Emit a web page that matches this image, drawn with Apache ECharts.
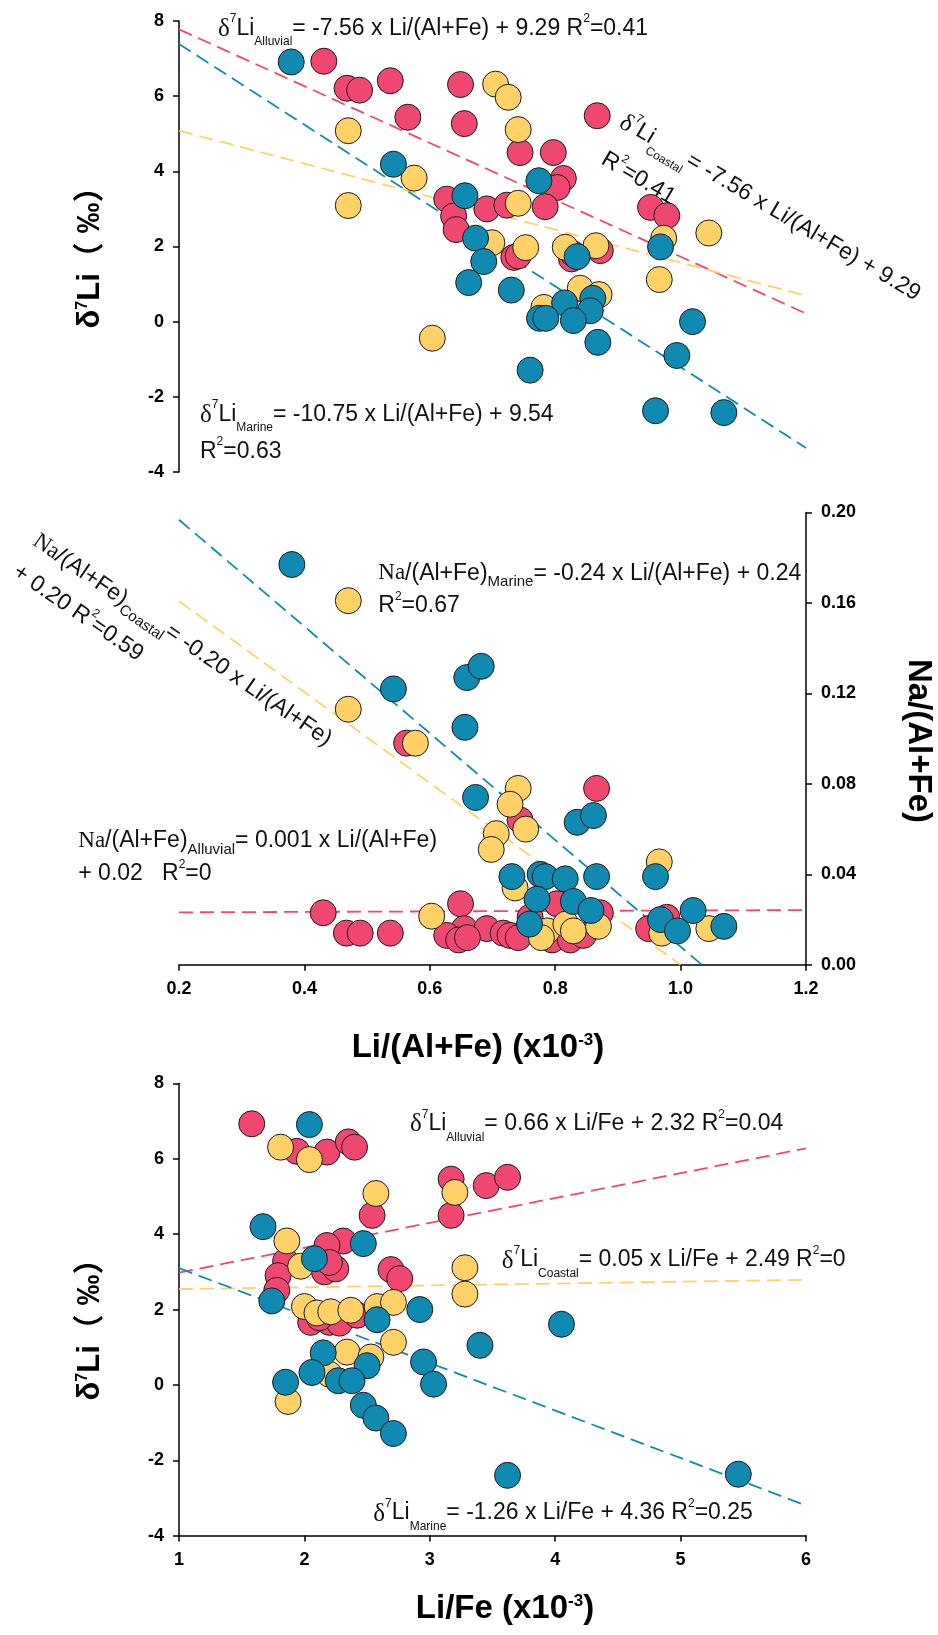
<!DOCTYPE html>
<html>
<head>
<meta charset="utf-8">
<title>δ7Li / Na vs Li</title>
<script src="https://cdn.jsdelivr.net/npm/echarts@6/dist/echarts.min.js"></script>
<style>
html, body { margin: 0; padding: 0; background: #fff; }
#chart { width: 938px; height: 1635px; }
</style>
</head>
<body>
<div id="chart"></div>
<script>
'use strict';
// 字体
var SANS = '"Liberation Sans", Arial, sans-serif';
var SERIF = '"Liberation Serif", "Times New Roman", serif';
var CJK = '"Liberation Sans", "Noto Sans CJK SC", sans-serif';

// 颜色：Alluvial / Coastal / Marine
var COLORS = ['#EF476F', '#FFD166', '#118AB2'];

// 坐标轴刻度
var xTicksLiAlFe = [0.2, 0.4, 0.6, 0.8, 1.0, 1.2];
var yTicksD7Li = [-4, -2, 0, 2, 4, 6, 8];
var yTicksNa = [0, 0.04, 0.08, 0.12, 0.16, 0.20];
var xTicksLiFe = [1, 2, 3, 4, 5, 6];

// 上图：δ7Li vs Li/(Al+Fe)
var topAlluvial = [[0.431,6.93],[0.468,6.21],[0.488,6.16],[0.537,6.41],[0.565,5.44],[0.649,6.31],[0.655,5.27],[0.744,4.50],[0.797,4.50],[0.813,3.81],[0.803,3.57],[0.627,3.26],[0.638,2.81],[0.642,2.45],[0.691,3.00],[0.723,3.10],[0.784,3.06],[0.734,1.71],[0.741,1.75],[0.826,1.67],[0.829,1.80],[0.872,1.89],[0.867,5.48],[0.952,3.04],[0.978,2.82]];
var topCoastal = [[0.470,5.08],[0.575,3.82],[0.470,3.09],[0.604,-0.44],[0.705,6.32],[0.725,5.97],[0.741,5.11],[0.699,2.10],[0.741,3.15],[0.753,1.97],[0.816,1.98],[0.865,2.02],[0.840,0.89],[0.870,0.72],[0.782,0.38],[0.973,2.22],[1.045,2.36],[0.966,1.12]];
var topMarine = [[0.379,6.91],[0.542,4.19],[0.656,3.35],[0.673,2.22],[0.686,1.60],[0.662,1.04],[0.730,0.84],[0.760,-1.29],[0.774,3.75],[0.835,1.73],[0.815,0.50],[0.860,0.62],[0.856,0.29],[0.775,0.09],[0.785,0.09],[0.829,0.03],[0.868,-0.55],[0.968,1.99],[1.019,0.00],[0.994,-0.90],[0.960,-2.37],[1.069,-2.42]];

// 中图：Na/(Al+Fe) vs Li/(Al+Fe)
var midAlluvial = [[0.563,0.098],[0.744,0.064],[0.866,0.078],[0.430,0.023],[0.467,0.014],[0.489,0.014],[0.537,0.014],[0.649,0.027],[0.655,0.016],[0.627,0.013],[0.646,0.011],[0.691,0.016],[0.717,0.014],[0.728,0.013],[0.741,0.012],[0.795,0.011],[0.803,0.027],[0.824,0.011],[0.872,0.023],[0.949,0.016],[0.978,0.021],[0.660,0.012],[0.760,0.021],[0.845,0.013],[0.780,0.013]];
var midCoastal = [[0.470,0.161],[0.470,0.113],[0.577,0.098],[0.603,0.0215],[0.741,0.078],[0.728,0.071],[0.753,0.060],[0.706,0.058],[0.698,0.051],[0.966,0.0455],[0.736,0.034],[0.787,0.015],[0.817,0.018],[0.829,0.015],[0.869,0.017],[0.970,0.014],[1.045,0.016],[0.778,0.012]];
var midMarine = [[0.380,0.177],[0.542,0.122],[0.659,0.127],[0.682,0.132],[0.656,0.105],[0.673,0.074],[0.835,0.063],[0.861,0.066],[0.960,0.039],[0.731,0.039],[0.776,0.040],[0.784,0.039],[0.816,0.038],[0.866,0.039],[0.771,0.029],[0.829,0.028],[0.857,0.024],[0.759,0.018],[0.968,0.020],[0.995,0.015],[1.020,0.024],[1.069,0.017]];

// 下图：δ7Li vs Li/Fe
var botAlluvial = [[1.58,6.93],[1.94,6.20],[2.18,6.18],[2.35,6.45],[2.40,6.31],[3.17,5.46],[3.17,4.50],[3.45,5.29],[3.62,5.51],[2.54,4.50],[2.31,3.82],[2.18,3.70],[1.85,3.28],[1.79,2.90],[1.78,2.51],[2.16,3.00],[2.25,3.08],[2.20,3.25],[2.69,3.06],[2.76,2.82],[2.05,1.66],[2.20,1.66],[2.28,1.64],[2.42,1.85],[2.12,1.78]];
var botCoastal = [[1.81,6.31],[2.04,5.98],[2.57,5.08],[3.20,5.11],[1.86,3.82],[1.97,3.15],[3.28,3.11],[3.28,2.41],[2.00,2.08],[2.10,1.91],[2.21,1.94],[2.37,1.98],[2.58,2.08],[2.71,2.19],[2.71,1.13],[2.34,0.87],[2.53,0.74],[2.20,0.28],[1.87,-0.44]];
var botMarine = [[1.67,4.20],[2.04,6.91],[2.08,3.35],[2.47,3.75],[1.74,2.23],[2.58,1.73],[2.92,2.00],[2.15,0.85],[2.50,0.51],[2.06,0.33],[2.27,0.11],[2.38,0.11],[1.85,0.07],[2.47,-0.54],[2.57,-0.88],[2.71,-1.29],[2.95,0.61],[3.03,0.02],[3.40,1.05],[3.62,-2.40],[4.05,1.61],[5.46,-2.37]];

// 拟合线（斜率, 截距），顺序 Alluvial / Coastal / Marine
var topSlope = [-7.56, -4.39, -10.75];
var topIntercept = [9.29, 5.96, 9.54];
var midSlope = [0.001, -0.201, -0.236];
var midIntercept = [0.023, 0.201, 0.244];
var botSlope = [0.66, 0.05, -1.26];
var botIntercept = [2.32, 2.49, 4.36];

// 拟合线两端点，碰到 y 轴下限就截断
function fitLine(slope, intercept, xTicks, yTicks) {
    var x0 = xTicks[0];
    var x1 = xTicks[xTicks.length - 1];
    var yMin = yTicks[0];
    if (slope < 0) {
        x1 = Math.min(x1, (yMin - intercept) / slope);
    }
    return [[x0, slope * x0 + intercept], [x1, slope * x1 + intercept]];
}

function valueAxis(gridIndex, ticks, fmt) {
    return {
        type: 'value',
        gridIndex: gridIndex,
        min: ticks[0],
        max: ticks[ticks.length - 1],
        interval: ticks[1] - ticks[0],
        axisLine: { show: true, onZero: false, lineStyle: { color: '#000', width: 1.5 } },
        axisTick: { show: true, length: 6, lineStyle: { color: '#000', width: 1.5 } },
        axisLabel: {
            show: true, color: '#000', fontWeight: 'bold', fontSize: 18, fontFamily: SANS,
            margin: 15, showMinLabel: true, showMaxLabel: true,
            formatter: fmt
        },
        splitLine: { show: false }
    };
}

function scatter(data, color, idx) {
    return {
        type: 'scatter', xAxisIndex: idx, yAxisIndex: idx, data: data,
        symbol: 'circle', symbolSize: 26,
        itemStyle: { color: color, borderColor: '#1a1a1a', borderWidth: 1, opacity: 1 },
        emphasis: { disabled: true }, silent: true, z: 3
    };
}

function dashed(points, color, idx) {
    return {
        type: 'line', xAxisIndex: idx, yAxisIndex: idx, data: points,
        symbol: 'none', showSymbol: false,
        lineStyle: { color: color, width: 1.8, type: [14, 7] },
        emphasis: { disabled: true }, silent: true, z: 2
    };
}

// 公式文字的富文本样式
var RICH = {
    t: { fontSize: 23, fontFamily: SANS, lineHeight: 24, padding: [4, 0, 0, 0], verticalAlign: 'top', color: '#111' },
    n: { fontSize: 23, fontFamily: SERIF, lineHeight: 24, padding: [4, 0, 0, 0], verticalAlign: 'top', color: '#111' },
    d: { fontSize: 25, fontFamily: SERIF, lineHeight: 24, padding: [4, 0, 0, 0], verticalAlign: 'top', color: '#111' },
    p: { fontSize: 12, fontFamily: SANS, lineHeight: 12, verticalAlign: 'top', color: '#111' },
    b: { fontSize: 12, fontFamily: SANS, lineHeight: 12, padding: [23, 0, 0, 0], verticalAlign: 'top', color: '#333' },
    B: { fontSize: 15, fontFamily: SANS, lineHeight: 14, padding: [17, 0, 0, 0], verticalAlign: 'top', color: '#111' }
};

// x,y 为首字左缘在正文中线上的位置，deg 为顺时针倾角
function eqText(x, y, text, deg) {
    var a = (deg || 0) * Math.PI / 180;
    return {
        type: 'text',
        x: x + 16 * Math.sin(a),
        y: y - 16 * Math.cos(a),
        rotation: -a,
        silent: true,
        style: { text: text, rich: RICH, fill: '#111', align: 'left', verticalAlign: 'top' }
    };
}

function titleText(x, y, text, rot, size) {
    return {
        type: 'text', x: x, y: y, rotation: rot, silent: true,
        style: {
            text: text, align: 'center', verticalAlign: 'middle', fill: '#000',
            rich: {
                a: { fontSize: size, fontWeight: 'bold', fontFamily: CJK, lineHeight: size + 4, verticalAlign: 'top', color: '#000' },
                s: { fontSize: Math.round(size * 0.5), fontWeight: 'bold', fontFamily: SANS, lineHeight: Math.round(size * 0.5), verticalAlign: 'top', color: '#000' }
            }
        }
    };
}

var series = [];
var groups = [
    [topAlluvial, topCoastal, topMarine, topSlope, topIntercept, xTicksLiAlFe, yTicksD7Li],
    [midAlluvial, midCoastal, midMarine, midSlope, midIntercept, xTicksLiAlFe, yTicksNa],
    [botAlluvial, botCoastal, botMarine, botSlope, botIntercept, xTicksLiFe, yTicksD7Li]
];
groups.forEach(function (g, idx) {
    for (var k = 0; k < 3; k++) {
        series.push(dashed(fitLine(g[3][k], g[4][k], g[5], g[6]), COLORS[k], idx));
    }
    for (var k = 0; k < 3; k++) {
        series.push(scatter(g[k], COLORS[k], idx));
    }
});

var fmt1 = function (v) { return v.toFixed(1); };
var fmt2 = function (v) { return v.toFixed(2); };
var fmt0 = function (v) { return String(v); };

var topX = valueAxis(0, xTicksLiAlFe, fmt1);
topX.show = false;
var midY = valueAxis(1, yTicksNa, fmt2);
midY.position = 'right';

var chart = echarts.init(document.getElementById('chart'), null, { renderer: 'canvas' });
chart.setOption({
    animation: false,
    backgroundColor: '#fff',
    grid: [
        { left: 179, top: 21, width: 627, height: 451, containLabel: false, outerBoundsMode: 'none' },
        { left: 179, top: 512.5, width: 627, height: 452.3, containLabel: false, outerBoundsMode: 'none' },
        { left: 179, top: 1083.5, width: 627, height: 452.1, containLabel: false, outerBoundsMode: 'none' }
    ],
    xAxis: [topX, valueAxis(1, xTicksLiAlFe, fmt1), valueAxis(2, xTicksLiFe, fmt0)],
    yAxis: [valueAxis(0, yTicksD7Li, fmt0), midY, valueAxis(2, yTicksD7Li, fmt0)],
    series: series,
    graphic: [
        // 上图公式
        eqText(218, 28.7, '{d|δ}{p|7}{t|Li}{b|Alluvial}{t|= -7.56 x Li/(Al+Fe) + 9.29 R}{p|2}{t|=0.41}'),
        eqText(621.5, 120.3, '{d|δ}{p|7}{t|Li}{b|Coastal}{t|= -7.56 x Li/(Al+Fe) + 9.29}', 30.6),
        eqText(603, 158, '{t|R}{p|2}{t|=0.41}', 30.6),
        eqText(200, 415, '{d|δ}{p|7}{t|Li}{b|Marine}{t|= -10.75 x Li/(Al+Fe) + 9.54}'),
        eqText(200, 451.7, '{t|R}{p|2}{t|=0.63}'),
        // 中图公式
        eqText(35, 539.5, '{n|Na}{t|/(Al+Fe)}{B|Coastal}{t|= -0.20 x Li/(Al+Fe)}', 34.5),
        eqText(15, 570.3, '{t|+ 0.20 R}{p|2}{t|=0.59}', 34.5),
        eqText(378.3, 573.8, '{n|Na}{t|/(Al+Fe)}{B|Marine}{t|= -0.24 x Li/(Al+Fe) + 0.24}'),
        eqText(378.3, 606.3, '{t|R}{p|2}{t|=0.67}'),
        eqText(78.3, 841.6, '{n|Na}{t|/(Al+Fe)}{B|Alluvial}{t|= 0.001 x Li/(Al+Fe)}'),
        eqText(78.3, 874.2, '{t|+ 0.02   R}{p|2}{t|=0}'),
        // 下图公式
        eqText(410, 1124.2, '{d|δ}{p|7}{t|Li}{b|Alluvial}{t|= 0.66 x Li/Fe + 2.32 R}{p|2}{t|=0.04}'),
        eqText(501.7, 1260.5, '{d|δ}{p|7}{t|Li}{b|Coastal}{t|= 0.05 x Li/Fe + 2.49 R}{p|2}{t|=0}'),
        eqText(373.3, 1513.6, '{d|δ}{p|7}{t|Li}{b|Marine}{t|= -1.26 x Li/Fe + 4.36 R}{p|2}{t|=0.25}'),
        // 坐标轴标题
        titleText(92, 250, '{a|δ}{s|7}{a|Li（ ‰）}', Math.PI / 2, 31),
        titleText(92, 1322, '{a|δ}{s|7}{a|Li（ ‰）}', Math.PI / 2, 31),
        titleText(916, 741, '{a|Na/(Al+Fe)}', -Math.PI / 2, 33),
        titleText(478, 1050, '{a|Li/(Al+Fe) (x10}{s|-3}{a|)}', 0, 33),
        titleText(505, 1611, '{a|Li/Fe (x10}{s|-3}{a|)}', 0, 33)
    ]
});
</script>
</body>
</html>
